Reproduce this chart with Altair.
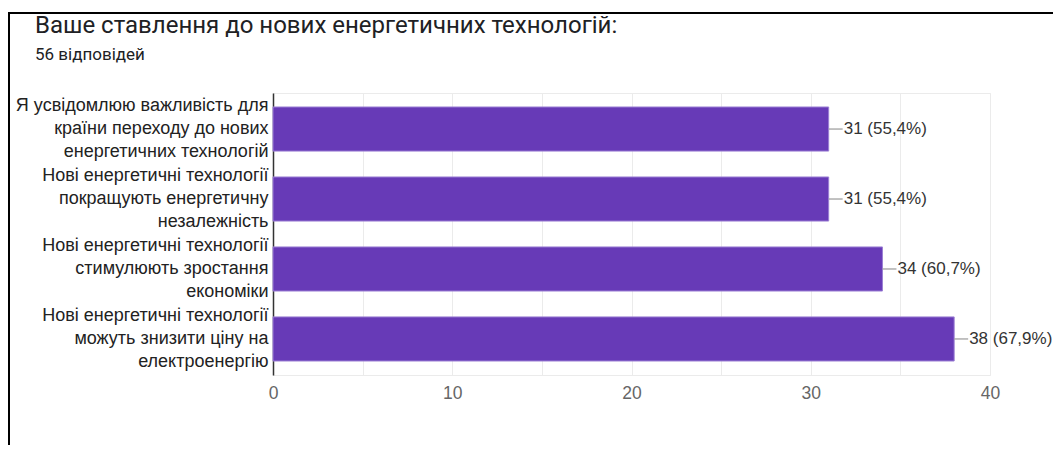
import altair as alt
import pandas as pd

title_text = "Ваше ставлення до нових енергетичних технологій:"
subtitle_text = "56 відповідей"
categories = [
    "Я усвідомлюю важливість для|країни переходу до нових|енергетичних технологій",
    "Нові енергетичні технології|покращують енергетичну|незалежність",
    "Нові енергетичні технології|стимулюють зростання|економіки",
    "Нові енергетичні технології|можуть знизити ціну на|електроенергію",
]
counts = [31, 31, 34, 38]
percents = ["55,4%", "55,4%", "60,7%", "67,9%"]

df = pd.DataFrame({
    "cat": categories,
    "count": counts,
    "label": [f"{c} ({p})" for c, p in zip(counts, percents)],
})

W, H = 717, 282
ox, oy = 265, 85  # padding left/top

y_enc = alt.Y("cat:N", sort=None, title=None,
              scale=alt.Scale(paddingInner=0.37, paddingOuter=0.2),
              axis=alt.Axis(labelExpr="split(datum.label, '|')", labelFontSize=18,
                            labelLineHeight=23, labelColor="#222", labelFont="Liberation Sans",
                            labelOffset=-23,
                            ticks=False, domainColor="#333", domainWidth=1.5,
                            labelPadding=5, grid=False, labelLimit=300))
x_enc = alt.X("count:Q", title=None,
              scale=alt.Scale(domain=[0, 40], nice=False),
              axis=alt.Axis(values=[0, 5, 10, 15, 20, 25, 30, 35, 40],
                            labelExpr="datum.value % 10 == 0 ? datum.label : ''",
                            labelFontSize=17.5, labelColor="#666", labelFont="Liberation Sans",
                            labelFlush=False,
                            ticks=False, domain=False, gridColor="#ebebeb", labelPadding=9))

bars = alt.Chart(df).mark_bar(color="#673ab7", stroke="#9b7fd4", strokeWidth=1).encode(
    x=x_enc, y=y_enc)
conn = alt.Chart(df).mark_rule(color="#999", x2Offset=14, strokeWidth=1.2).encode(
    x="count:Q", x2="count:Q", y=alt.Y("cat:N", sort=None))
txt = alt.Chart(df).mark_text(align="left", dx=15, fontSize=17, color="#333",
                              font="Liberation Sans").encode(
    x="count:Q", y=alt.Y("cat:N", sort=None), text="label:N")

frame_top = alt.Chart(df).mark_rule(color="#000", strokeWidth=2).encode(
    x=alt.value(-ox), x2=alt.value(1061 - 8 - ox), y=alt.value(13 - 8 - oy))
frame_left = alt.Chart(df).mark_rule(color="#000", strokeWidth=2).encode(
    x=alt.value(-ox + 1), y=alt.value(13 - 8 - oy), y2=alt.value(453 - 8 - oy))

title_mark = alt.Chart(pd.DataFrame({"t": [title_text]})).mark_text(
    align="left", baseline="alphabetic", fontSize=24, font="Roboto", color="#202124").encode(
    x=alt.value(35 - 8 - ox), y=alt.value(33 - 8 - oy), text="t:N")
subtitle_mark = alt.Chart(pd.DataFrame({"t": [subtitle_text]})).mark_text(
    align="left", baseline="alphabetic", fontSize=17, font="Roboto", color="#202124").encode(
    x=alt.value(35 - 8 - ox), y=alt.value(60 - 8 - oy), text="t:N")

chart = alt.layer(bars, conn, txt, frame_top, frame_left, title_mark, subtitle_mark).properties(
    width=W, height=H,
    autosize=alt.AutoSizeParams(type="none"),
    padding={"left": ox, "top": oy, "right": 1061 - 16 - ox - W, "bottom": 453 - 16 - oy - H},
).configure_view(stroke="#ebebeb")

chart.save("out.html", embed_options={"renderer": "svg", "actions": False})
